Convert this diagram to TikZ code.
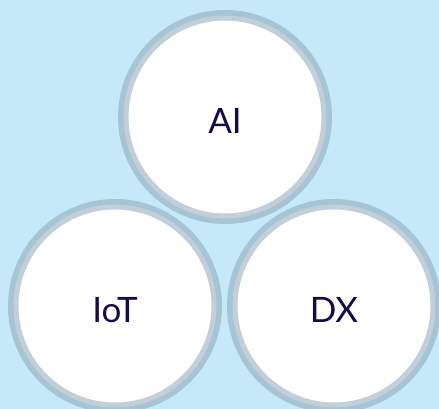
\documentclass[tikz,border=0pt]{standalone}
\usepackage{fontspec}
\setmainfont{Lato}
\definecolor{bgblue}{HTML}{C5E9F8}
\definecolor{ringdark}{HTML}{A5C4D4}
\definecolor{ringlight}{HTML}{C3CFD8}
\definecolor{txt}{HTML}{140A4E}
\begin{document}
\begin{tikzpicture}[x=1pt,y=-1pt,
  bub/.style={circle, minimum size=198pt, inner sep=0pt, fill=white,
    draw=ringlight, line width=5pt,
    preaction={draw=ringdark, line width=16pt}},
  lab/.style={text=txt, font=\fontsize{35}{40}\selectfont, yshift=-4pt}]
\fill[bgblue] (0,0) rectangle (439,409);
\useasboundingbox (0,0) rectangle (439,409);
\node[bub, label={[lab]center:AI}] (ai) at (225,117) {};
\node[bub, label={[lab]center:IoT}] (iot) at (115,306) {};
\node[bub, label={[lab]center:DX}] (dx) at (334,306) {};
\end{tikzpicture}
\end{document}
